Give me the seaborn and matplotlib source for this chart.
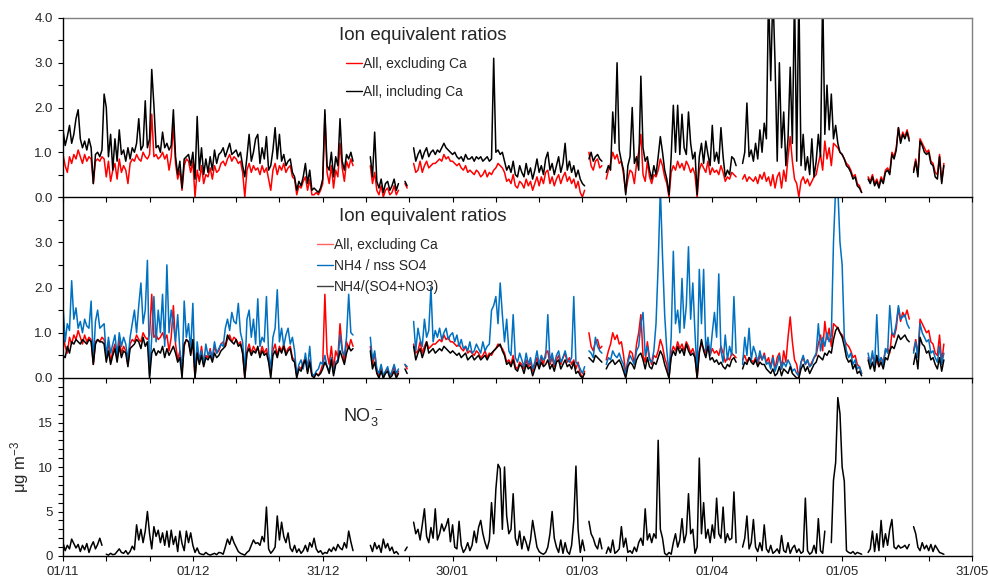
import numpy as np
import pandas as pd
import matplotlib
matplotlib.use("Agg")
import matplotlib.pyplot as plt
from matplotlib.lines import Line2D
from matplotlib.ticker import MultipleLocator, FormatStrFormatter
import seaborn as sns

nan = np.nan
step_days = 0.5  # half-day samples starting 01/11
tick_days = [0, 30, 60, 90, 120, 150, 180, 210]
tick_labels = ["01/11", "01/12", "31/12", "30/01", "01/03", "01/04", "01/05", "31/05"]

# Ion equivalent ratio, all ions excluding Ca
excl_ca = [
    0.95,0.70,0.55,0.90,0.75,0.95,0.85,1.05,0.90,0.75,0.95,0.80,0.90,0.85,0.30,0.80,0.85,0.80,0.90,0.85,
    0.45,0.80,0.35,0.60,0.75,0.40,0.85,0.55,0.70,0.60,0.30,0.75,0.85,0.80,0.95,0.85,0.80,1.00,0.90,0.85,
    0.95,1.85,0.90,0.95,0.85,0.90,1.00,0.85,0.95,0.60,0.90,1.60,0.75,0.40,0.60,0.15,0.70,0.85,0.80,0.55,
    0.80,0.00,0.60,0.35,0.70,0.30,0.50,0.45,0.65,0.40,0.70,0.55,0.60,0.75,0.80,0.70,0.85,0.95,0.80,0.90,
    0.85,0.75,0.80,0.55,0.00,0.60,0.75,0.55,0.70,0.60,0.65,0.50,0.70,0.55,0.65,0.40,0.15,0.60,0.75,0.50,
    0.70,0.60,0.75,0.55,0.65,0.70,0.45,0.40,0.05,0.25,0.20,0.35,0.45,0.15,0.40,0.05,0.05,0.10,0.05,0.15,
    0.30,1.85,0.55,0.30,0.70,0.20,0.60,0.45,1.20,0.65,0.35,0.80,0.65,0.85,0.70,nan,nan,nan,nan,nan,
    nan,nan,0.70,0.30,0.55,0.15,0.05,0.25,0.00,0.15,0.20,0.05,0.10,0.25,0.05,0.15,nan,nan,0.30,0.20,
    nan,nan,0.75,0.55,0.60,0.80,0.55,0.70,0.80,0.65,0.70,0.75,0.75,0.80,0.85,0.80,0.95,0.85,0.90,0.80,
    0.80,0.75,0.70,0.75,0.65,0.60,0.70,0.55,0.60,0.55,0.50,0.60,0.55,0.45,0.50,0.60,0.45,0.55,0.50,0.60,
    0.65,0.75,0.70,0.65,0.55,0.35,0.40,0.30,0.50,0.25,0.20,0.35,0.30,0.20,0.40,0.25,0.35,0.15,0.30,0.45,
    0.25,0.45,0.30,0.55,0.60,0.30,0.45,0.25,0.40,0.50,0.30,0.45,0.55,0.35,0.45,0.30,0.40,0.20,0.35,0.10,
    0.00,0.15,nan,1.00,0.70,0.60,0.80,0.85,0.65,0.70,nan,0.40,0.60,0.75,1.00,0.85,0.95,0.75,0.80,0.50,
    0.10,0.40,0.60,0.55,0.30,0.75,1.00,1.40,0.50,0.35,0.80,0.45,0.30,0.50,0.45,0.60,0.85,0.70,0.45,0.30,
    0.00,0.55,0.70,0.60,0.80,0.65,0.75,0.60,0.80,0.70,0.55,0.65,0.50,0.00,0.60,0.75,0.65,0.55,0.80,0.50,
    0.65,0.55,0.60,0.50,0.70,0.55,0.35,0.45,0.40,0.55,0.50,0.45,nan,nan,0.40,0.50,0.35,0.45,0.40,0.35,
    0.45,0.30,0.50,0.40,0.55,0.35,0.45,0.25,0.50,0.20,0.45,0.55,0.20,0.60,0.35,0.90,1.35,0.80,0.40,0.30,
    0.00,0.35,0.45,0.30,0.40,0.25,0.35,0.45,0.50,0.75,0.95,0.60,1.25,0.85,1.10,0.70,1.20,1.15,1.10,1.00,
    0.95,0.85,0.75,0.70,0.60,0.45,0.50,0.30,0.25,0.10,nan,nan,0.45,0.35,0.50,0.30,0.40,0.25,0.45,0.35,
    0.60,0.65,0.55,1.00,0.90,1.10,1.55,1.25,1.45,1.35,1.50,1.30,nan,0.60,0.85,0.50,1.30,1.20,1.10,1.00,
    1.05,0.80,0.75,0.55,0.50,0.95,0.35,0.75,
]

# Ion equivalent ratio, all ions including Ca
incl_ca = [
    1.50,1.15,1.35,1.60,1.20,1.40,1.75,1.95,1.30,1.10,1.25,1.05,1.30,1.10,0.30,0.95,1.00,0.90,1.05,2.30,
    2.00,0.90,1.40,0.60,1.30,0.80,1.50,0.95,1.05,0.80,1.10,0.85,1.10,1.00,1.20,1.75,1.05,1.15,2.15,1.10,
    1.30,2.85,2.05,1.10,1.15,1.00,1.45,1.10,1.20,1.05,1.15,1.95,0.90,0.50,0.80,0.20,0.85,0.90,0.95,0.70,
    1.00,0.40,1.80,0.60,1.10,0.50,0.85,0.55,0.90,0.60,1.05,0.75,0.95,1.00,1.10,0.90,1.05,1.20,0.95,1.00,
    1.05,0.90,1.00,0.70,0.45,0.90,1.40,0.80,1.00,1.30,1.40,0.75,1.10,0.85,1.35,0.60,0.70,1.05,1.55,0.85,
    1.40,0.80,0.95,0.70,0.80,0.85,0.55,0.45,0.15,0.35,0.25,0.45,0.75,0.30,0.60,0.15,0.20,0.15,0.10,0.20,
    0.40,1.95,0.70,0.60,1.00,0.45,0.90,0.70,1.75,0.80,0.60,0.95,0.85,1.00,0.80,nan,nan,nan,nan,nan,
    nan,nan,0.90,0.45,1.45,0.35,0.20,0.40,0.10,0.30,0.35,0.15,0.25,0.40,0.15,0.30,nan,nan,0.35,0.25,
    nan,nan,1.10,0.80,0.95,1.05,0.85,1.00,1.10,0.90,1.00,1.05,0.95,1.05,1.00,1.10,1.20,1.10,1.05,1.00,
    0.95,1.00,0.90,0.85,0.90,0.80,0.95,0.85,0.85,0.90,0.80,0.90,0.85,0.90,0.80,0.85,0.90,0.80,0.85,3.10,
    1.00,1.05,0.95,1.00,0.80,0.60,0.70,0.55,0.80,0.50,0.45,0.70,0.55,0.45,0.75,0.50,0.65,0.40,0.60,0.85,
    0.55,0.70,0.50,0.85,1.00,0.60,0.75,0.50,0.70,0.90,0.55,0.75,1.20,0.60,0.80,0.55,0.70,0.45,0.60,0.40,
    0.30,0.25,nan,0.85,1.00,0.80,0.90,0.95,0.85,0.80,nan,0.55,0.70,0.60,1.90,1.20,3.00,1.05,0.80,0.60,
    0.05,0.70,0.90,2.00,0.75,0.90,0.60,2.70,1.10,0.80,0.90,0.60,0.40,0.70,0.50,0.90,1.35,1.00,0.60,0.40,
    0.05,0.90,2.05,1.00,2.05,0.95,1.85,1.10,0.95,1.90,1.20,0.85,1.00,0.05,0.90,1.20,0.75,1.25,0.95,0.70,
    1.60,0.80,1.00,0.75,1.55,0.90,0.45,0.60,0.50,0.90,0.85,0.70,nan,nan,0.75,1.00,2.10,0.90,1.05,0.80,
    1.20,0.85,1.50,1.00,1.65,1.30,4.60,2.60,4.60,3.00,0.80,3.00,1.10,1.90,0.70,1.30,2.90,1.20,4.60,0.80,
    4.60,0.70,1.40,0.60,0.90,0.50,1.30,0.45,0.80,1.40,0.90,4.60,1.40,2.50,1.50,2.30,1.30,1.60,1.20,1.00,
    0.95,0.85,0.70,0.65,0.55,0.40,0.45,0.25,0.20,0.10,nan,nan,0.40,0.30,0.45,0.25,0.35,0.20,0.40,0.30,
    0.55,0.60,0.50,0.95,0.85,1.05,1.55,1.20,1.40,1.30,1.45,1.25,nan,0.55,0.80,0.45,1.25,1.15,1.00,0.95,
    1.00,0.75,0.70,0.45,0.40,0.90,0.30,0.70,
]

# NH4 / nss SO4
nh4_nss_so4 = [
    1.60,0.80,1.20,1.05,2.15,1.30,1.55,1.10,1.25,1.00,1.30,1.15,1.10,1.70,0.35,1.25,1.50,1.10,1.15,1.20,
    0.45,0.90,0.55,0.75,0.95,0.50,1.00,0.70,0.90,0.75,0.40,0.90,1.20,1.50,1.00,1.60,2.10,1.20,1.50,2.60,
    0.05,0.90,1.80,0.80,1.50,1.00,1.85,0.70,2.50,1.00,1.50,1.20,0.80,1.40,0.60,0.10,1.70,0.90,1.20,0.60,
    1.65,0.05,0.80,0.40,0.60,0.30,0.75,0.50,0.60,0.45,0.80,0.55,0.65,0.75,0.70,1.10,1.30,1.05,1.45,1.25,
    1.20,1.65,1.00,0.80,0.10,1.30,1.50,0.90,1.30,0.75,1.75,0.70,0.90,0.80,1.80,0.55,0.20,0.90,1.10,1.95,
    0.80,1.10,0.70,0.95,1.10,0.75,0.90,0.60,0.05,0.30,0.40,0.20,0.55,0.20,0.70,0.10,0.05,0.15,0.20,0.35,
    0.30,0.50,0.25,0.15,0.45,0.10,0.35,0.40,0.95,0.60,0.50,0.90,1.85,1.00,0.95,nan,nan,nan,nan,nan,
    nan,nan,0.90,0.40,0.60,0.20,0.10,0.30,0.05,0.15,0.25,0.05,0.15,0.30,0.10,0.20,nan,nan,0.30,0.25,
    nan,nan,1.25,0.60,1.10,0.85,0.70,1.30,0.90,1.05,2.00,0.80,1.05,0.90,1.10,0.85,1.00,1.10,0.85,0.95,
    1.00,0.80,0.95,0.70,0.85,0.65,0.70,0.60,0.80,0.55,0.60,0.75,0.65,0.55,0.80,0.60,0.70,0.75,1.50,1.60,
    1.80,1.20,2.10,1.40,0.80,1.30,0.60,0.50,1.40,0.45,0.35,0.55,0.40,0.25,0.55,0.30,0.45,0.20,0.35,0.60,
    0.30,0.50,0.40,0.45,1.40,0.35,0.55,0.30,0.50,0.60,0.35,0.45,0.60,0.40,0.35,0.45,1.80,0.35,0.30,0.20,
    0.10,0.25,nan,0.60,0.55,0.45,0.90,0.70,0.60,0.55,nan,0.30,0.45,0.40,0.60,0.50,0.45,0.55,0.40,0.30,
    0.05,0.35,0.50,0.40,0.30,0.60,0.70,1.20,1.45,0.50,0.70,0.40,0.35,0.60,1.20,2.50,4.20,2.70,1.40,0.60,
    0.10,0.90,2.80,1.20,1.50,1.00,2.20,1.10,1.60,2.90,1.30,2.10,1.00,0.10,2.40,1.20,2.40,0.60,0.90,0.50,
    1.00,1.45,0.90,2.30,0.60,0.35,0.95,0.40,0.70,0.50,1.80,0.55,nan,nan,0.30,0.90,0.50,1.10,0.40,0.70,
    0.55,0.35,0.60,0.40,0.50,0.30,0.35,0.20,0.45,0.15,0.30,0.50,0.20,0.35,0.25,0.40,0.30,0.15,0.20,0.10,
    0.05,0.35,0.50,0.30,0.40,0.25,0.30,0.45,0.55,1.20,0.60,0.90,0.70,1.00,0.80,0.95,3.00,4.20,4.20,3.00,
    2.50,0.90,0.60,0.45,0.55,0.30,0.40,0.20,0.25,0.10,nan,nan,0.55,0.30,0.60,0.25,1.40,0.35,0.45,0.30,
    0.65,0.55,1.60,1.00,0.95,1.20,1.60,1.30,1.35,1.40,1.20,1.10,nan,0.55,0.80,0.45,1.20,1.00,0.90,0.80,
    0.85,0.55,0.60,0.45,0.35,0.70,0.30,0.55,
]

# NH4 / (SO4 + NO3)
nh4_so4_no3 = [
    0.50,0.45,0.70,0.55,0.80,0.75,0.85,0.80,0.75,0.85,0.80,0.75,0.85,0.80,0.30,0.75,0.85,0.80,0.80,0.75,
    0.35,0.60,0.30,0.50,0.65,0.35,0.70,0.45,0.60,0.55,0.25,0.65,0.70,0.75,0.85,0.80,0.65,0.90,0.70,0.80,
    0.00,0.55,0.65,0.50,0.60,0.55,0.70,0.45,0.65,0.50,0.60,0.70,0.55,0.35,0.45,0.00,0.75,0.85,0.80,0.50,
    0.85,0.00,0.55,0.30,0.50,0.25,0.45,0.40,0.50,0.35,0.55,0.45,0.50,0.60,0.65,0.70,0.95,0.85,0.80,0.75,
    0.85,0.70,0.75,0.55,0.00,0.55,0.65,0.50,0.60,0.55,0.70,0.45,0.60,0.50,0.55,0.35,0.00,0.50,0.60,0.45,
    0.65,0.55,0.70,0.50,0.60,0.65,0.40,0.35,0.00,0.20,0.15,0.30,0.40,0.10,0.35,0.05,0.00,0.10,0.05,0.10,
    0.20,0.35,0.25,0.10,0.40,0.05,0.30,0.35,0.60,0.45,0.30,0.55,0.70,0.60,0.65,nan,nan,nan,nan,nan,
    nan,nan,0.60,0.20,0.35,0.10,0.00,0.15,0.00,0.10,0.15,0.00,0.05,0.15,0.00,0.10,nan,nan,0.20,0.10,
    nan,nan,0.70,0.40,0.55,0.65,0.45,0.60,0.80,0.55,0.60,0.65,0.55,0.60,0.65,0.60,0.70,0.65,0.60,0.55,
    0.60,0.55,0.50,0.55,0.45,0.50,0.55,0.40,0.45,0.50,0.40,0.45,0.50,0.40,0.45,0.50,0.40,0.50,0.55,0.60,
    0.65,0.70,0.75,0.60,0.50,0.30,0.35,0.25,0.40,0.20,0.15,0.30,0.25,0.10,0.30,0.20,0.25,0.05,0.20,0.35,
    0.20,0.35,0.25,0.30,0.40,0.20,0.30,0.15,0.35,0.40,0.20,0.30,0.40,0.25,0.30,0.20,0.35,0.10,0.15,0.05,
    0.00,0.10,nan,0.45,0.40,0.35,0.50,0.45,0.40,0.35,nan,0.20,0.30,0.35,0.40,0.30,0.35,0.40,0.30,0.15,
    0.00,0.25,0.35,0.30,0.20,0.40,0.50,0.55,0.40,0.20,0.45,0.25,0.20,0.35,0.30,0.45,0.60,0.50,0.30,0.15,
    0.00,0.45,0.60,0.50,0.70,0.55,0.65,0.50,0.75,0.60,0.50,0.55,0.45,0.00,0.55,0.85,0.60,0.45,0.70,0.40,
    0.45,0.35,0.40,0.30,0.35,0.25,0.20,0.30,0.25,0.40,0.45,0.35,nan,nan,0.20,0.35,0.30,0.45,0.35,0.30,
    0.40,0.25,0.35,0.30,0.30,0.20,0.15,0.10,0.20,0.05,0.10,0.25,0.05,0.20,0.15,0.10,0.25,0.10,0.05,0.00,
    0.00,0.20,0.30,0.15,0.25,0.10,0.20,0.30,0.35,0.50,0.45,0.40,0.55,0.50,0.60,0.55,0.85,1.05,1.12,1.00,
    0.90,0.70,0.45,0.35,0.40,0.20,0.30,0.10,0.15,0.05,nan,nan,0.40,0.20,0.35,0.15,0.50,0.25,0.35,0.20,
    0.45,0.40,0.60,0.70,0.65,0.80,0.95,0.85,0.90,0.95,0.85,0.80,nan,0.30,0.55,0.20,0.90,0.75,0.70,0.55,
    0.60,0.40,0.45,0.30,0.20,0.45,0.15,0.40,
]

# NO3- concentration (ug m-3)
no3 = [
    1.50,0.60,1.20,0.80,1.90,1.40,0.90,1.30,0.50,1.20,0.70,1.40,0.40,1.10,1.60,0.80,1.30,2.00,1.20,nan,
    0.20,0.10,0.30,0.15,0.20,0.50,0.80,0.40,0.30,0.60,0.20,0.50,1.10,0.70,3.50,1.80,3.00,1.50,2.80,5.00,
    2.50,0.80,3.30,2.20,2.90,1.50,2.60,1.20,2.80,1.00,2.90,1.30,2.20,0.50,2.80,1.40,0.60,2.80,1.50,2.60,
    1.20,0.40,0.90,0.30,0.20,0.15,0.40,0.20,0.10,0.20,0.30,0.15,0.40,0.35,0.20,1.00,1.90,1.30,2.20,1.50,
    1.00,0.50,0.30,0.20,0.10,0.40,0.60,1.20,1.80,1.40,1.50,1.20,2.20,1.60,5.50,0.80,0.30,0.60,1.00,4.50,
    1.80,3.80,2.20,1.50,2.60,0.90,0.50,1.20,0.40,0.80,0.30,0.60,1.20,0.50,1.50,1.00,2.00,0.80,0.40,0.60,
    0.20,0.40,0.30,0.80,0.50,1.00,0.60,1.30,0.90,0.70,1.50,0.90,2.80,1.60,0.60,nan,nan,nan,nan,nan,
    nan,nan,1.20,0.50,1.50,0.80,1.20,0.40,1.90,0.90,1.40,0.60,1.00,0.30,0.50,0.20,nan,nan,0.60,1.00,
    nan,nan,3.80,2.50,3.00,1.80,3.50,5.30,2.20,1.50,3.20,2.00,5.30,1.80,2.50,3.60,2.80,3.40,4.20,1.60,
    3.50,1.00,0.80,3.90,1.20,0.40,0.80,1.50,0.60,1.20,2.80,1.50,3.20,4.00,2.50,1.50,0.80,1.80,6.00,2.50,
    7.50,10.30,9.80,3.00,10.00,4.50,2.50,3.00,7.00,2.00,1.20,2.80,0.80,2.20,1.50,0.60,1.80,4.00,2.50,1.00,
    0.50,0.30,0.20,0.40,1.00,2.50,5.00,2.00,1.00,0.40,1.80,0.30,1.50,0.50,0.20,1.20,4.00,10.10,3.00,0.40,
    1.80,0.60,nan,3.90,2.50,2.00,1.20,0.80,2.00,0.80,nan,0.30,1.00,0.40,1.80,0.30,0.50,0.80,3.30,1.00,
    2.00,0.40,0.60,0.30,1.00,0.50,1.50,2.00,1.20,5.30,1.80,2.50,1.50,2.50,2.00,13.00,3.00,2.00,0.30,0.10,
    0.40,0.20,1.50,2.50,1.00,1.80,4.20,1.50,2.50,7.00,2.50,3.00,0.30,1.00,11.00,2.50,6.00,2.00,3.00,1.50,
    3.50,2.00,6.50,2.50,2.00,5.50,1.50,2.50,1.80,2.00,7.20,1.50,nan,nan,1.00,2.00,4.50,0.80,1.50,4.10,
    1.00,0.50,1.50,0.60,3.50,0.80,0.40,1.20,0.30,0.50,0.80,0.30,2.30,0.60,0.40,1.50,0.30,0.90,1.20,0.40,
    0.80,0.30,0.50,6.50,0.60,0.20,0.40,1.20,0.30,4.20,0.60,0.30,2.80,nan,nan,1.50,8.50,10.50,17.80,16.00,
    10.00,8.40,0.60,0.40,0.30,0.50,0.20,0.40,0.30,0.20,nan,nan,0.40,0.80,2.80,0.50,2.50,0.60,4.00,1.00,
    2.50,1.20,3.00,4.10,1.00,0.80,1.20,0.90,1.00,1.20,0.80,1.30,nan,3.30,2.50,1.00,0.60,1.50,0.80,1.20,
    0.60,1.30,0.50,1.20,0.80,0.40,0.30,0.20,
]

lens = [len(excl_ca), len(incl_ca), len(nh4_nss_so4), len(nh4_so4_no3), len(no3)]
assert len(set(lens)) == 1, f"length mismatch {lens}"

sns.set_style("ticks")
plt.rcParams["font.family"] = ["Liberation Sans", "DejaVu Sans"]
plt.rcParams["mathtext.fontset"] = "custom"
plt.rcParams["mathtext.rm"] = "Liberation Sans"
plt.rcParams["mathtext.it"] = "Liberation Sans:italic"
plt.rcParams["mathtext.bf"] = "Liberation Sans:bold"

RED, BLUE, BLACK, GRAY = "#ff0000", "#0070c0", "#000000", "#808080"


def frame(values):
    v = np.asarray(values, dtype=float)
    df = pd.DataFrame({"day": np.arange(len(v)) * step_days, "value": v,
                       "seg": np.cumsum(np.isnan(v))})
    return df.dropna()


def draw(ax, values, color, lw=1.1):
    sns.lineplot(data=frame(values), x="day", y="value", units="seg",
                 estimator=None, color=color, linewidth=lw, ax=ax, legend=False)


fig = plt.figure(figsize=(9.89, 5.79), dpi=100)
L, W = 63 / 989, 909 / 989
ax3 = fig.add_axes([L, 1 - 556 / 579, W, 178 / 579])
ax2 = fig.add_axes([L, 1 - 378 / 579, W, 181 / 579])
ax1 = fig.add_axes([L, 1 - 197 / 579, W, 179 / 579])

draw(ax1, excl_ca, RED)
draw(ax1, incl_ca, BLACK)
draw(ax2, excl_ca, RED)
draw(ax2, nh4_nss_so4, BLUE)
draw(ax2, nh4_so4_no3, BLACK)
draw(ax3, no3, BLACK)

for ax in (ax1, ax2, ax3):
    ax.patch.set_visible(False)
    ax.set_xlim(tick_days[0], tick_days[-1])
    ax.set_xticks(tick_days)
    ax.xaxis.set_minor_locator(MultipleLocator(10))
    ax.tick_params(axis="both", which="both", direction="out", length=3.5,
                   width=0.8, color="black", labelsize=9.5, pad=4)
    ax.set_xlabel("")
    ax.set_ylabel("")
    for s in ("left", "bottom"):
        ax.spines[s].set_color("black")
        ax.spines[s].set_linewidth(1.0)
        ax.spines[s].set_zorder(5)
    ax.spines["right"].set_visible(True)
    ax.spines["right"].set_color(GRAY)
    ax.spines["right"].set_linewidth(1.0)

ax1.spines["top"].set_visible(True)
ax1.spines["top"].set_color(GRAY)
ax1.spines["top"].set_linewidth(1.0)
ax2.spines["top"].set_visible(False)
ax3.spines["top"].set_visible(False)

ax1.tick_params(labelbottom=False)
ax2.tick_params(labelbottom=False)
ax3.set_xticklabels(tick_labels)

ax1.set_ylim(0, 4)
ax1.set_yticks([0, 1, 2, 3, 4])
ax1.yaxis.set_minor_locator(MultipleLocator(0.5))
ax1.yaxis.set_major_formatter(FormatStrFormatter("%.1f"))

ax2.set_ylim(0, 4)
ax2.set_yticks([0, 1, 2, 3])
ax2.yaxis.set_minor_locator(MultipleLocator(0.5))
ax2.yaxis.set_major_formatter(FormatStrFormatter("%.1f"))

ax3.set_ylim(0, 20)
ax3.set_yticks([0, 5, 10, 15])
ax3.yaxis.set_minor_locator(MultipleLocator(1))
ax3.set_ylabel("\u03bcg m$^{-3}$", fontsize=12, labelpad=5)

ax1.text(0.3036, 0.905, "Ion equivalent ratios", transform=ax1.transAxes,
         fontsize=13.5, ha="left", va="center")
ax2.text(0.3036, 0.895, "Ion equivalent ratios", transform=ax2.transAxes,
         fontsize=13.5, ha="left", va="center")
ax3.text(0.308, 0.781, "NO$_3^{\\,-}$", transform=ax3.transAxes,
         fontsize=13, ha="left", va="center")

h1 = [Line2D([], [], color=RED, lw=1), Line2D([], [], color=BLACK, lw=1)]
ax1.legend(h1, ["All, excluding Ca", "All, including Ca"], loc="upper left",
           bbox_to_anchor=(0.311, 0.782), frameon=False, fontsize=10,
           handlelength=1.15, handletextpad=0.1, labelspacing=1.0,
           borderpad=0, borderaxespad=0)

h2 = [Line2D([], [], color="#ff6060", lw=1), Line2D([], [], color=BLUE, lw=1),
      Line2D([], [], color="#404040", lw=1)]
ax2.legend(h2, ["All, excluding Ca", "NH4 / nss SO4", "NH4/(SO4+NO3)"],
           loc="upper left", bbox_to_anchor=(0.279, 0.772), frameon=False,
           fontsize=10, handlelength=1.15, handletextpad=0.1, labelspacing=0.5,
           borderpad=0, borderaxespad=0)

fig.savefig("out.png", dpi=100)
